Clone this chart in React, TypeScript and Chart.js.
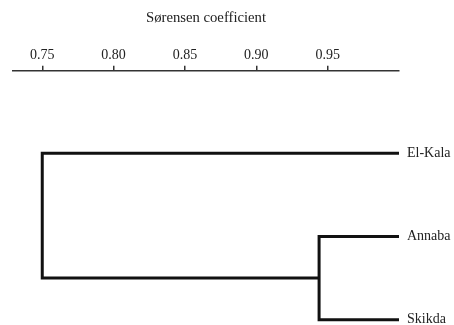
import React, { useEffect, useRef } from "react";
import { Chart, registerables } from "chart.js";

Chart.register(...registerables);

// Leaves (top to bottom) and their similarity level
const leafNames: string[] = ["El-Kala", "Annaba", "Skikda"];
const leafLevel = 1.0;
// Merge levels (Sørensen coefficient)
const mergeAnnabaSkikda = 0.944;
const mergeRoot = 0.75;
// Axis ticks
const xTicks: number[] = [0.75, 0.8, 0.85, 0.9, 0.95];
const xMin = 0.7295;
const xMax = 1.0;

const FONT = '"Liberation Serif", "Times New Roman", serif';

export default function App() {
  const ref = useRef<HTMLCanvasElement | null>(null);

  useEffect(() => {
    if (!ref.current) return;
    const yA = 1; // Annaba
    const yS = 2; // Skikda
    const yE = 0; // El-Kala
    const mid = (yA + yS) / 2;
    const link1 = [
      { x: leafLevel, y: yA },
      { x: mergeAnnabaSkikda, y: yA },
      { x: mergeAnnabaSkikda, y: yS },
      { x: leafLevel, y: yS },
    ];
    const link2 = [
      { x: leafLevel, y: yE },
      { x: mergeRoot, y: yE },
      { x: mergeRoot, y: mid },
      { x: mergeAnnabaSkikda, y: mid },
    ];
    const ds = (data: { x: number; y: number }[]) => ({
      data,
      showLine: true,
      borderColor: "#111",
      borderWidth: 3,
      pointRadius: 0,
      fill: false,
      tension: 0,
      clip: false as any,
      borderJoinStyle: "miter" as const,
      borderCapStyle: "butt" as const,
    });

    const chart = new Chart(ref.current, {
      type: "scatter",
      data: { datasets: [ds(link1), ds(link2)] },
      options: {
        animation: false,
        responsive: false,
        events: [],
        layout: { padding: { left: 13, right: 0, top: 0, bottom: 2 } },
        plugins: { legend: { display: false }, tooltip: { enabled: false } },
        scales: {
          x: {
            type: "linear",
            position: "top",
            min: xMin,
            max: xMax,
            afterBuildTicks: (scale: any) => {
              scale.ticks = xTicks.map((v) => ({ value: v }));
            },
            afterFit: (scale: any) => {
              scale.height = 70.7;
              scale.paddingLeft = 0;
              scale.paddingRight = 0;
            },
            ticks: {
              color: "#222",
              font: { family: FONT, size: 14 },
              padding: 2,
              maxRotation: 0,
              autoSkip: false,
              callback: (v: any) => Number(v).toFixed(2),
            },
            grid: {
              display: true,
              drawOnChartArea: false,
              drawTicks: true,
              tickLength: 5,
              color: "#333",
              lineWidth: 1.5,
            },
            border: { display: true, color: "#333", width: 1.5 },
            title: {
              display: true,
              text: "Sørensen coefficient",
              color: "#222",
              font: { family: FONT, size: 14.7 },
              padding: { top: 9, bottom: 0 },
            },
          },
          y: {
            type: "linear",
            position: "right",
            reverse: true,
            min: -0.99,
            max: 2.04,
            afterBuildTicks: (scale: any) => {
              scale.ticks = leafNames.map((_, i) => ({ value: i }));
            },
            afterFit: (scale: any) => {
              scale.width = 55;
              scale.paddingTop = 0;
              scale.paddingBottom = 0;
            },
            ticks: {
              color: "#222",
              font: { family: FONT, size: 14 },
              padding: 8,
              autoSkip: false,
              callback: (v: any) => leafNames[Number(v)] ?? "",
            },
            grid: { display: false, drawTicks: false },
            border: { display: false },
          },
        },
      },
    });
    return () => chart.destroy();
  }, []);

  return (
    <div
      style={{
        position: "fixed",
        left: 0,
        top: 0,
        width: 454,
        height: 325,
        background: "#fff",
      }}
    >
      <canvas ref={ref} width={454} height={325} style={{ display: "block" }} />
    </div>
  );
}
